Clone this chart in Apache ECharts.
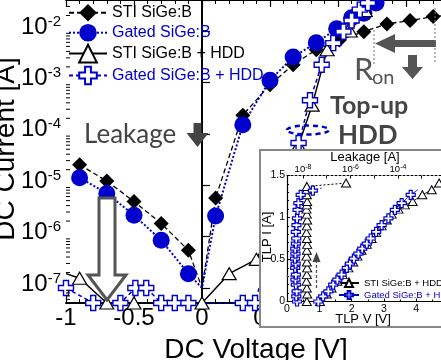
<!DOCTYPE html>
<html>
<head>
<meta charset="utf-8">
<script src="https://cdn.jsdelivr.net/npm/echarts@6.0.0/dist/echarts.min.js"></script>
<style>
html,body{margin:0;padding:0;background:#fff;}
#chart{width:441px;height:360px;}
</style>
</head>
<body>
<div id="chart"></div>
<script>
// ---------------- main plot: DC I-V ----------------
const stiV   = [-0.9, -0.7, -0.5, -0.3, -0.1, 0, 0.1, 0.3, 0.5, 0.67, 0.84, 1.01, 1.19, 1.36, 1.53, 1.70, 1.87];
const stiI   = [2.5e-5, 1.2e-5, 4.8e-6, 1.8e-6, 5.4e-7, 1.0e-7, 5.6e-6, 2.3e-4, 9.0e-4, 2.2e-3, 4.3e-3, 6.7e-3, 9.7e-3, 1.37e-2, 1.6e-2, 1.9e-2, 2.1e-2];
const stiNoMark = [0];

const gatedV = [-0.9, -0.7, -0.5, -0.3, -0.1, 0, 0.1, 0.3, 0.5, 0.67, 0.84, 0.99, 1.10, 1.19, 1.28, 1.40];
const gatedI = [1.4e-5, 6.9e-6, 2.6e-6, 8.5e-7, 1.9e-7, 1.0e-7, 2.5e-6, 1.5e-4, 1.1e-3, 3.1e-3, 5.9e-3, 1.1e-2, 1.8e-2, 2.2e-2, 3.5e-2, 5.0e-2];
const gatedNoMark = [0];

const stiHddV = [-1, -0.9, -0.7, -0.5, 0, 0.2, 0.4, 0.6, 0.71, 0.81, 0.92, 1.09, 1.2, 1.3];
const stiHddI = [1.9e-7, 1.55e-7, 5.1e-8, 5.1e-8, 5.1e-8, 1.9e-7, 3.6e-7, 4.0e-6, 6.0e-5, 3.6e-4, 4.3e-3, 1.0e-2, 2.5e-2, 4.5e-2];
const stiHddNoMark = [-1];

const gatedHddV = [-1, -0.8, -0.6, -0.49, -0.41, -0.3, -0.2, -0.1, 0.3, 0.39, 0.5, 0.6, 0.71, 0.794, 0.88, 0.965, 1.04, 1.10, 1.16, 1.22, 1.30];
const gatedHddI = [1.0e-7, 5.1e-8, 5.1e-8, 1.0e-7, 1.0e-7, 5.1e-8, 5.1e-8, 5.1e-8, 5.1e-8, 5.1e-8, 6.0e-7, 6.0e-6, 6.6e-5, 4.5e-4, 2.2e-3, 5.8e-3, 9.7e-3, 1.6e-2, 2.6e-2, 3.5e-2, 5.0e-2];
const gatedHddNoMark = [];

const yTickExps = [-7, -6, -5, -4, -3, -2];
const yMinorTicks = [6e-8, 7e-8, 8e-8, 9e-8,
  2e-7, 3e-7, 4e-7, 5e-7, 6e-7, 7e-7, 8e-7, 9e-7,
  2e-6, 3e-6, 4e-6, 5e-6, 6e-6, 7e-6, 8e-6, 9e-6,
  2e-5, 3e-5, 4e-5, 5e-5, 6e-5, 7e-5, 8e-5, 9e-5,
  2e-4, 3e-4, 4e-4, 5e-4, 6e-4, 7e-4, 8e-4, 9e-4,
  2e-3, 3e-3, 4e-3, 5e-3, 6e-3, 7e-3, 8e-3, 9e-3,
  2e-2, 3e-2];

// ---------------- inset: TLP ----------------
const tlpStiV = [1.02, 1.23, 1.38, 1.56, 1.72, 1.90, 2.05, 2.18, 2.31, 2.47, 2.62, 2.76, 2.93, 3.09, 3.24, 3.45, 3.65, 3.89, 4.19, 4.48, 4.71];
const tlpStiI = [0.00, 0.09, 0.16, 0.24, 0.32, 0.40, 0.47, 0.54, 0.61, 0.68, 0.75, 0.82, 0.90, 0.97, 1.04, 1.10, 1.15, 1.19, 1.27, 1.33, 1.41];
const tlpStiLeakI = [0.00, 0.09, 0.16, 0.24, 0.32, 0.40, 0.47, 0.54, 0.61, 0.68, 0.75, 0.82, 0.90, 0.97, 1.04, 1.10, 1.15, 1.19, 1.27, 1.33, 1.37, 1.41];
const tlpStiLeak  = [1.45e-8, 1.5e-8, 1.45e-8, 1.4e-8, 1.45e-8, 1.5e-8, 1.45e-8, 1.4e-8, 1.45e-8, 1.5e-8, 1.45e-8, 1.4e-8, 1.45e-8, 1.5e-8, 1.45e-8, 1.4e-8, 1.45e-8, 1.5e-8, 1.45e-8, 1.4e-8, 1.45e-8, 6.5e-7];

const tlpGatedV = [0.97, 1.12, 1.28, 1.43, 1.56, 1.69, 1.85, 1.95, 2.07, 2.21, 2.33, 2.47, 2.59, 2.76, 2.93, 3.14, 3.34, 3.55, 3.83, 4.05];
const tlpGatedI = [0.00, 0.06, 0.12, 0.20, 0.26, 0.32, 0.40, 0.45, 0.51, 0.57, 0.63, 0.69, 0.75, 0.83, 0.91, 0.99, 1.09, 1.17, 1.27, 1.33];
const tlpGatedNoMark = [4.05];
const tlpGatedLeakI = [0.00, 0.06, 0.12, 0.20, 0.26, 0.32, 0.40, 0.45, 0.51, 0.57, 0.63, 0.69, 0.75, 0.83, 0.91, 0.99, 1.09, 1.17, 1.27, 1.32, 1.35];
const tlpGatedLeak  = [5.6e-9, 5.2e-9, 5.4e-9, 5.0e-9, 4.8e-9, 5.0e-9, 4.7e-9, 4.9e-9, 4.6e-9, 4.8e-9, 4.7e-9, 5.0e-9, 5.2e-9, 5.0e-9, 5.3e-9, 5.6e-9, 5.9e-9, 6.4e-9, 8.0e-9, 2.6e-8, 6.1e-8];
const tlpGatedLeakNoMark = [6.1e-8];
const leakTickExps = [-8, -6, -4];

// ---------------- helpers ----------------
const BLUE = '#0000cc';
const FONT = '"Liberation Sans", Arial, sans-serif';
const CROSS = 'path://M1,0L2,0L2,1L3,1L3,2L2,2L2,3L1,3L1,2L0,2L0,1L1,1Z';

function pts(xs, ys, noMark) {
  return xs.map((x, i) => noMark.indexOf(x) >= 0 ? { value: [x, ys[i]], symbol: 'none' } : [x, ys[i]]);
}
function supLabel(exps) {
  return function (v) {
    const l = Math.log10(v), e = Math.round(l);
    if (Math.abs(l - e) > 1e-6 || exps.indexOf(e) < 0) return '';
    return '{b|10}{s|' + e + '}';
  };
}

const chart = echarts.init(document.getElementById('chart'), null, { renderer: 'canvas' });

const option = {
  animation: false,
  backgroundColor: '#fff',
  grid: [
    { left: 66, top: 0, width: 408, height: 303, outerBoundsMode: 'none', containLabel: false },
    { left: 287, top: 175.5, width: 161.5, height: 126, outerBoundsMode: 'none', containLabel: false }
  ],
  legend: [
    {
      data: [
        { name: 'STI SiGe:B', textStyle: { color: '#000' } },
        { name: 'Gated SiGe:B', textStyle: { color: BLUE } },
        { name: 'STI SiGe:B + HDD', textStyle: { color: '#000' } },
        { name: 'Gated SiGe:B + HDD', textStyle: { color: BLUE } }
      ],
      orient: 'vertical', left: 68, top: 4, padding: 0,
      itemWidth: 38, itemHeight: 22, itemGap: 2.3, selectedMode: false,
      textStyle: { fontSize: 16, fontFamily: FONT }, z: 30
    },
    {
      data: [
        { name: 'tlpSti', textStyle: { color: '#000' } },
        { name: 'tlpGated', textStyle: { color: BLUE } }
      ],
      formatter: n => ({ tlpSti: 'STI SiGe:B + HDD', tlpGated: 'Gated SiGe:B + HDD' })[n],
      orient: 'vertical', left: 338, top: 278, padding: 0,
      itemWidth: 20, itemHeight: 10, itemGap: 2, selectedMode: false,
      textStyle: { fontSize: 9.5, fontFamily: FONT }, z: 70
    }
  ],
  xAxis: [
    {
      gridIndex: 0, type: 'value', min: -1, max: 2, interval: 0.5, position: 'bottom',
      axisLine: { lineStyle: { color: '#000', width: 2 } },
      axisTick: { inside: true, length: 7, lineStyle: { color: '#000', width: 1.2 } },
      minorTick: { show: true, splitNumber: 5, length: 4, lineStyle: { color: '#000', width: 1 } },
      axisLabel: { fontSize: 24, color: '#000', fontFamily: FONT, margin: 3 },
      splitLine: { show: false }, minorSplitLine: { show: false }
    },
    {
      gridIndex: 0, type: 'value', min: -1, max: 2, interval: 0.5, position: 'top',
      axisLine: { lineStyle: { color: '#000', width: 2 } },
      axisTick: { inside: true, length: 7, lineStyle: { color: '#000', width: 1.2 } },
      minorTick: { show: true, splitNumber: 5, length: 4, lineStyle: { color: '#000', width: 1 } },
      axisLabel: { show: false }, splitLine: { show: false }
    },
    {
      gridIndex: 1, type: 'value', min: 0, max: 5, interval: 1, position: 'bottom', z: 60,
      axisLine: { lineStyle: { color: '#000', width: 1.2 } },
      axisTick: { inside: true, length: 3, lineStyle: { color: '#000', width: 1 } },
      minorTick: { show: true, splitNumber: 2, length: 2, lineStyle: { color: '#000' } },
      axisLabel: { fontSize: 10.5, color: '#000', fontFamily: FONT, margin: 2 },
      splitLine: { show: false }
    },
    {
      gridIndex: 1, type: 'log', logBase: 10, min: 2.12e-9, max: 1.34e-2, position: 'top', z: 60,
      axisLine: { lineStyle: { color: '#000', width: 1, type: [2, 2] } },
      axisTick: { inside: true, length: 3, lineStyle: { color: '#000', width: 1 } },
      axisLabel: {
        formatter: supLabel(leakTickExps), margin: 1, color: '#000', fontFamily: FONT,
        rich: { b: { fontSize: 9.5, lineHeight: 11, fontFamily: FONT }, s: { fontSize: 7, lineHeight: 7, verticalAlign: 'top', fontFamily: FONT } }
      },
      splitLine: { show: false }
    }
  ],
  yAxis: [
    {
      gridIndex: 0, type: 'log', logBase: 10, min: 5.1e-8, max: 0.04,
      axisLine: { lineStyle: { color: '#000', width: 2 } },
      axisTick: { inside: true, length: 8, lineStyle: { color: '#000', width: 1.2 } },
      axisLabel: {
        formatter: supLabel(yTickExps), margin: 5, color: '#000', padding: [0, 0, 8, 0],
        rich: { b: { fontSize: 24, lineHeight: 26, fontFamily: FONT }, s: { fontSize: 15, lineHeight: 15, verticalAlign: 'top', fontFamily: FONT } }
      },
      splitLine: { show: false }
    },
    {
      gridIndex: 1, type: 'value', min: 0, max: 1.5, interval: 0.5, z: 60,
      axisLine: { lineStyle: { color: '#000', width: 1.2 } },
      axisTick: { inside: true, length: 3, lineStyle: { color: '#000', width: 1 } },
      minorTick: { show: true, splitNumber: 5, length: 2, lineStyle: { color: '#000' } },
      axisLabel: { fontSize: 10.5, color: '#000', fontFamily: FONT, margin: 2 },
      splitLine: { show: false }
    }
  ],
  series: [
    {
      type: 'custom', name: 'yMinor', xAxisIndex: 0, yAxisIndex: 0, silent: true, z: 3,
      data: yMinorTicks.map(v => [-1, v]),
      renderItem: function (params, api) {
        const p = api.coord([api.value(0), api.value(1)]);
        return { type: 'line', shape: { x1: p[0], y1: p[1], x2: p[0] + 4, y2: p[1] }, style: { stroke: '#000', lineWidth: 1 } };
      }
    },
    {
      name: 'STI SiGe:B', type: 'line', xAxisIndex: 0, yAxisIndex: 0, z: 2,
      data: pts(stiV, stiI, stiNoMark), symbol: 'diamond', symbolSize: [15, 15],
      itemStyle: { color: '#000' }, lineStyle: { color: '#000', width: 1.3, type: [5, 3] }
    },
    {
      name: 'Gated SiGe:B', type: 'line', xAxisIndex: 0, yAxisIndex: 0, z: 2,
      data: pts(gatedV, gatedI, gatedNoMark), symbol: 'circle', symbolSize: 17,
      itemStyle: { color: BLUE }, lineStyle: { color: BLUE, width: 2, type: [2, 2] }
    },
    {
      name: 'STI SiGe:B + HDD', type: 'line', xAxisIndex: 0, yAxisIndex: 0, z: 2,
      data: pts(stiHddV, stiHddI, stiHddNoMark), symbol: 'triangle', symbolSize: [14, 12],
      itemStyle: { color: '#fff', borderColor: '#000', borderWidth: 1.2 }, lineStyle: { color: '#000', width: 1.5 }
    },
    {
      name: 'Gated SiGe:B + HDD', type: 'line', xAxisIndex: 0, yAxisIndex: 0, z: 2,
      data: pts(gatedHddV, gatedHddI, gatedHddNoMark), symbol: CROSS, symbolSize: 15,
      itemStyle: { color: '#fff', borderColor: BLUE, borderWidth: 1.4 }, lineStyle: { color: BLUE, width: 1.5, type: [4, 3] }
    },
    // inset
    {
      name: 'tlpSti', type: 'line', xAxisIndex: 2, yAxisIndex: 1, z: 70,
      data: pts(tlpStiV, tlpStiI, []), symbol: 'triangle', symbolSize: [9, 8],
      itemStyle: { color: '#fff', borderColor: '#000', borderWidth: 1 }, lineStyle: { color: '#000', width: 0.8 }
    },
    {
      name: 'tlpGated', type: 'line', xAxisIndex: 2, yAxisIndex: 1, z: 70,
      data: pts(tlpGatedV, tlpGatedI, tlpGatedNoMark), symbol: CROSS, symbolSize: 9,
      itemStyle: { color: '#fff', borderColor: BLUE, borderWidth: 1.2 }, lineStyle: { color: BLUE, width: 0.8 }
    },
    {
      name: 'tlpStiLeak', type: 'line', xAxisIndex: 3, yAxisIndex: 1, z: 70,
      data: pts(tlpStiLeak, tlpStiLeakI, []), symbol: 'triangle', symbolSize: [9, 8],
      itemStyle: { color: '#fff', borderColor: '#000', borderWidth: 1 }, lineStyle: { color: '#000', width: 1, type: [2, 2] }
    },
    {
      name: 'tlpGatedLeak', type: 'line', xAxisIndex: 3, yAxisIndex: 1, z: 70,
      data: pts(tlpGatedLeak, tlpGatedLeakI, tlpGatedLeakNoMark), symbol: CROSS, symbolSize: 9,
      itemStyle: { color: '#fff', borderColor: BLUE, borderWidth: 1.2 }, lineStyle: { color: BLUE, width: 1, type: [2, 2] }
    }
  ],
  graphic: [
    // axis titles
    { type: 'text', x: 6, y: 149, rotation: Math.PI / 2, z: 5,
      style: { text: 'DC Current [A]', fontSize: 28, fontFamily: FONT, fill: '#000', align: 'center', verticalAlign: 'middle' } },
    { type: 'text', x: 256, y: 350, z: 5,
      style: { text: 'DC Voltage [V]', fontSize: 28, fontFamily: FONT, fill: '#000', align: 'center', verticalAlign: 'middle' } },
    // Leakage annotation
    { type: 'text', x: 84, y: 135, z: 40,
      style: { text: 'Leakage', fontSize: 26, fontFamily: 'Lato', fill: '#444', align: 'left', verticalAlign: 'middle' } },
    { type: 'polygon', z: 40, shape: { points: [[193.5, 123], [201.5, 123], [201.5, 133], [208.5, 133], [197.5, 147], [186.5, 133], [193.5, 133]] }, style: { fill: '#444' } },
    // hollow arrow
    { type: 'polygon', z: 40, shape: { points: [[99, 198], [115, 198], [115, 275], [126, 275], [107, 300], [88, 275], [99, 275]] },
      style: { fill: '#fff', stroke: '#555', lineWidth: 3 } },
    // R_on
    { type: 'text', x: 354, y: 70, z: 40, style: { text: 'R', fontSize: 31, fontFamily: 'Lato', fill: '#555', align: 'left', verticalAlign: 'middle' } },
    { type: 'text', x: 372, y: 78, z: 40, style: { text: 'on', fontSize: 20, fontFamily: 'Lato', fill: '#555', align: 'left', verticalAlign: 'middle' } },
    { type: 'polygon', z: 40, shape: { points: [[375, 43.5], [395, 34], [395, 40], [436, 40], [436, 47], [395, 47], [395, 53]] }, style: { fill: '#555' } },
    { type: 'polygon', z: 40, shape: { points: [[408, 55], [417, 55], [417, 67], [423, 67], [412.5, 79], [402, 67], [408, 67]] }, style: { fill: '#555' } },
    { type: 'line', z: 40, shape: { x1: 374, y1: 30, x2: 374, y2: 64 }, style: { stroke: '#777', lineWidth: 1, lineDash: [2, 2] } },
    { type: 'line', z: 40, shape: { x1: 435, y1: 8, x2: 435, y2: 62 }, style: { stroke: '#777', lineWidth: 1, lineDash: [2, 2] } },
    // Top-up HDD
    { type: 'text', x: 330, y: 106, z: 40, style: { text: 'Top-up', fontSize: 25, fontWeight: 'bold', fontFamily: 'Lato', fill: '#444', align: 'left', verticalAlign: 'middle' } },
    { type: 'text', x: 338, y: 136, z: 40, style: { text: 'HDD', fontSize: 26, fontWeight: 'bold', fontFamily: 'Lato', fill: '#444', align: 'left', verticalAlign: 'middle' } },
    { type: 'ellipse', z: 40, shape: { cx: 308, cy: 130, rx: 21, ry: 4.5 }, style: { fill: 'none', stroke: BLUE, lineWidth: 2.5, lineDash: [5, 4] } },
    // inset frame
    { type: 'rect', z: 50, shape: { x: 260, y: 150, width: 200, height: 177 }, style: { fill: '#fff', stroke: '#888', lineWidth: 2 } },
    { type: 'text', x: 365, y: 157, z: 70, style: { text: 'Leakage [A]', fontSize: 13, fontFamily: FONT, fill: '#000', align: 'center', verticalAlign: 'middle' } },
    { type: 'text', x: 363, y: 319, z: 70, style: { text: 'TLP V [V]', fontSize: 13, fontFamily: FONT, fill: '#000', align: 'center', verticalAlign: 'middle' } },
    { type: 'text', x: 267.5, y: 237, rotation: Math.PI / 2, z: 70, style: { text: 'TLP I [A]', fontSize: 13, fontFamily: FONT, fill: '#000', align: 'center', verticalAlign: 'middle' } },
    { type: 'line', z: 70, shape: { x1: 316.5, y1: 288, x2: 316.5, y2: 261 }, style: { stroke: '#555', lineWidth: 1.3, lineDash: [3, 2] } },
    { type: 'polygon', z: 70, shape: { points: [[312.5, 262], [320.5, 262], [316.5, 252]] }, style: { fill: '#444' } },
    { type: 'line', z: 70, shape: { x1: 286, y1: 276, x2: 315, y2: 276 }, style: { stroke: '#999', lineWidth: 1, lineDash: [2, 2] } }
  ]
};

chart.setOption(option);
</script>
</body>
</html>
